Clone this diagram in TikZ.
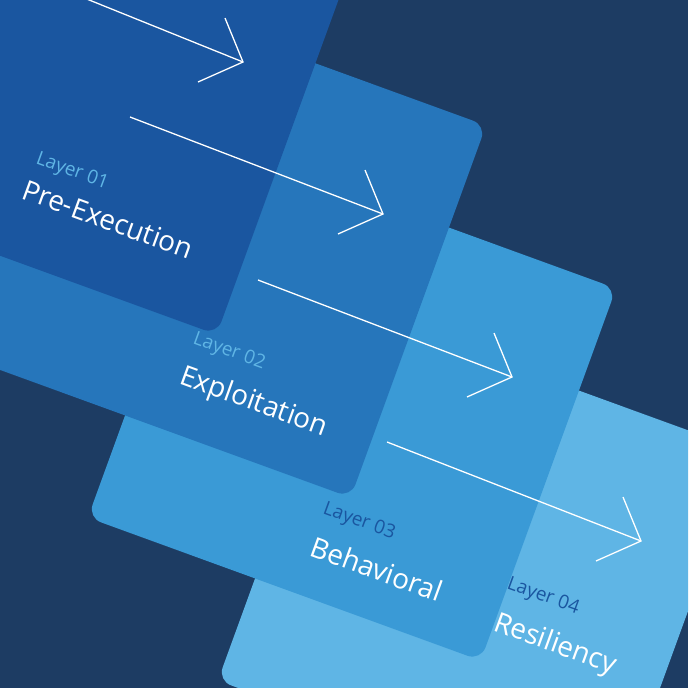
\documentclass[tikz,border=0pt]{standalone}
\usepackage{fontspec}
\setmainfont{Open Sans}
\usetikzlibrary{calc}
\definecolor{bg}{HTML}{1D3C63}
\definecolor{c1}{HTML}{1A56A0}
\definecolor{c2}{HTML}{2676BB}
\definecolor{c3}{HTML}{3A9AD6}
\definecolor{c4}{HTML}{5FB5E5}
\begin{document}
\begin{tikzpicture}[x=1pt,y=-1pt,
  card/.style={rounded corners=14pt,minimum width=418pt,minimum height=396pt,rotate=-20,inner sep=0pt},
  lay/.style={anchor=base west,rotate=-20,font=\fontsize{19}{19}\selectfont,inner sep=0pt},
  ttl/.style={anchor=base west,rotate=-20,font=\fontsize{28}{28}\selectfont,text=white,inner sep=0pt},
  arr/.style={draw=white,line width=1.3pt}]
\fill[bg] (0,0) rectangle (688,688);
\useasboundingbox (0,0) rectangle (688,688);
\begin{scope}
\clip (0,0) rectangle (688,688);
\node[card,fill=c4] (k4) at (482,566) {};
\node[card,fill=c3] (k3) at (352,403) {};
\node[card,fill=c2] (k2) at (222,240) {};
\node[card,fill=c1] (k1) at (88,77) {};
\coordinate (s1) at (-10,-40); \coordinate (t1) at (243,62);
\coordinate (s2) at (130,117); \coordinate (t2) at (383,214);
\coordinate (s3) at (258,280); \coordinate (t3) at (512,377);
\coordinate (s4) at (387,442); \coordinate (t4) at (641,541);
\foreach \i in {1,2,3,4}{
  \draw[arr] (s\i) -- (t\i);
  \draw[arr,line join=miter] ($(t\i)+(-18,-44)$) -- (t\i) -- ($(t\i)+(-45,20)$);
}
\end{scope}
\node[lay,text=c4] (l1) at (35,163) {Layer 01};
\node[ttl] (n1) at (20,198) {Pre-Execution};
\node[lay,text=c4] (l2) at (192,343) {Layer 02};
\node[ttl] (n2) at (178,383) {Exploitation};
\node[lay,text=c1] (l3) at (322,513) {Layer 03};
\node[ttl] (n3) at (308,555) {Behavioral};
\node[lay,text=c1] (l4) at (506,588) {Layer 04};
\node[ttl] (n4) at (492,630) {Resiliency};
\end{tikzpicture}
\end{document}
